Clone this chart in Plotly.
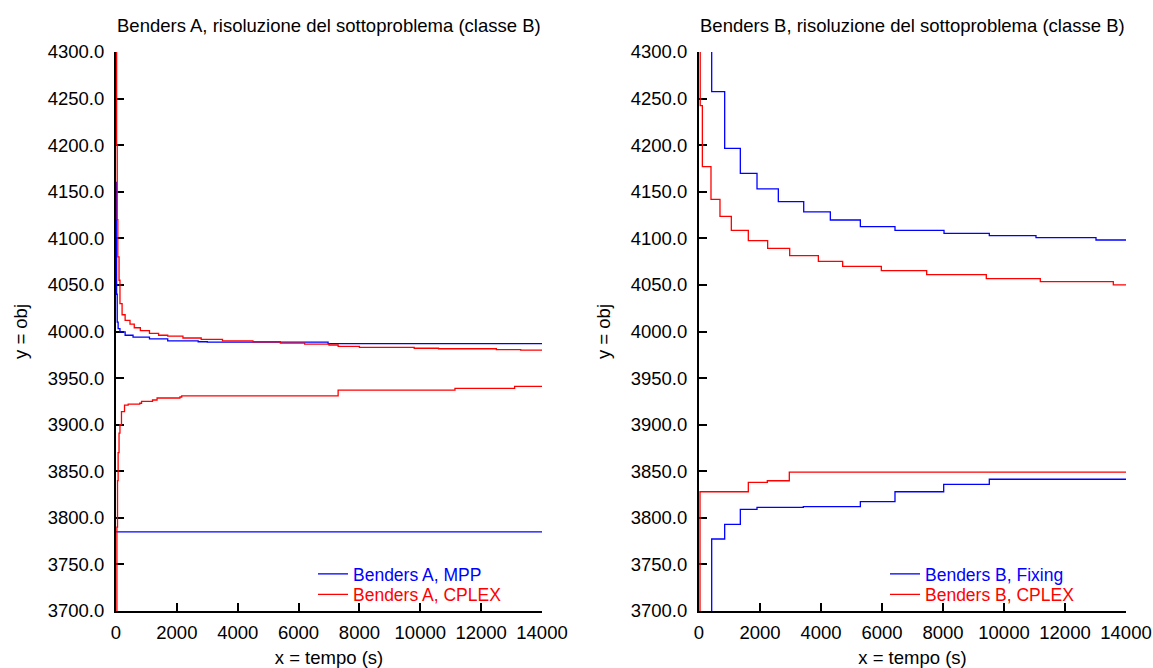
import plotly.graph_objects as go

# ---------------- Benders A, classe B ----------------
# Upper bound, MPP
a_mpp_up_t = [0, 10, 20, 40, 70, 130, 300, 560, 1100, 1700, 2700, 3000, 6970, 14000]
a_mpp_up_v = [4160, 4100, 4040, 4010, 4003, 3999.5, 3996, 3994, 3992, 3990, 3989, 3988.5, 3987, 3987]
# Lower bound, MPP
a_mpp_lo_t = [0, 14000]
a_mpp_lo_v = [3785, 3785]
# Upper bound, CPLEX
a_cpx_up_t = [0, 20, 40, 60, 100, 130, 200, 300, 460, 600, 800, 1100, 1400, 1700, 2200, 2800,
              3500, 4500, 5400, 6200, 7000, 7300, 8000, 9800, 10600, 12500, 13300, 14000]
a_cpx_up_v = [4320, 4200, 4120, 4080, 4055, 4030, 4018, 4012, 4008, 4004, 4001, 3998, 3996, 3995,
              3993, 3991.5, 3990, 3989, 3987.5, 3986.5, 3985.5, 3984, 3983, 3982, 3981.5, 3980.5,
              3980, 3980]
# Lower bound, CPLEX
a_cpx_lo_t = [0, 30, 50, 70, 100, 130, 180, 280, 400, 780, 840, 1200, 1350, 2100, 2160, 7300,
              11140, 13100, 14000]
a_cpx_lo_v = [3690, 3790, 3840, 3870, 3891, 3900, 3914, 3921, 3922, 3923, 3925, 3926.5, 3928.6,
              3929.7, 3930.8, 3937, 3939, 3941, 3941]

# ---------------- Benders B, classe B ----------------
# Upper bound, Fixing
b_fix_up_t = [416, 416, 842, 1355, 1902, 2601, 3433, 4306, 5290, 6426, 8033, 9518, 11049, 13016, 14000]
b_fix_up_v = [4400, 4257.4, 4196.6, 4169.8, 4153, 4139.3, 4128.3, 4119.7, 4112.5, 4108.6, 4105.4,
              4102.9, 4100.7, 4098.2, 4098.2]
# Lower bound, Fixing
b_fix_lo_t = [416, 416, 842, 1355, 1902, 3421, 5290, 6426, 8023, 9518, 14000]
b_fix_lo_v = [3600, 3777.3, 3793, 3809, 3811.3, 3812, 3817.3, 3828, 3836, 3841.4, 3841.4]
# Upper bound, CPLEX
b_cpx_up_t = [0, 40, 110, 393, 688, 1060, 1617, 2251, 2973, 3913, 4710, 5978, 7465, 9420, 11190,
              13584, 14000]
b_cpx_up_v = [4330, 4242.4, 4176.9, 4141.9, 4123.6, 4108.6, 4097.5, 4089.3, 4081.4, 4075.3, 4070,
              4065.3, 4061, 4056.7, 4053.5, 4050, 4050]
# Lower bound, CPLEX
b_cpx_lo_t = [0, 33, 1617, 2240, 2961, 14000]
b_cpx_lo_v = [3600, 3828, 3838, 3839.8, 3849, 3849]

titles = ["Benders A, risoluzione del sottoproblema (classe B)",
          "Benders B, risoluzione del sottoproblema (classe B)"]
x_ticks = list(range(0, 14001, 2000))
y_ticks = [3700 + 50 * i for i in range(13)]

BLUE = "#0000ff"
RED = "#ff0000"
FONT = "Liberation Sans, Arial, sans-serif"
FS = 18.5
FS_LEG = 17.5

fig = go.Figure()


def add_series(t, v, color, name, xa, ya, leg, show):
    fig.add_trace(go.Scatter(
        x=t, y=v, mode="lines",
        line=dict(color=color, width=1.3, shape="hv"),
        name=name, showlegend=show, legend=leg,
        xaxis=xa, yaxis=ya, hoverinfo="x+y",
    ))


# each method gets its own one-entry legend so entries can carry their own colour
add_series(a_mpp_lo_t, a_mpp_lo_v, BLUE, "Benders A, MPP", "x", "y", "legend", True)
add_series(a_mpp_up_t, a_mpp_up_v, BLUE, "Benders A, MPP", "x", "y", "legend", False)
add_series(a_cpx_lo_t, a_cpx_lo_v, RED, "Benders A, CPLEX", "x", "y", "legend2", True)
add_series(a_cpx_up_t, a_cpx_up_v, RED, "Benders A, CPLEX", "x", "y", "legend2", False)

add_series(b_fix_lo_t, b_fix_lo_v, BLUE, "Benders B, Fixing", "x2", "y2", "legend3", True)
add_series(b_fix_up_t, b_fix_up_v, BLUE, "Benders B, Fixing", "x2", "y2", "legend3", False)
add_series(b_cpx_lo_t, b_cpx_lo_v, RED, "Benders B, CPLEX", "x2", "y2", "legend4", True)
add_series(b_cpx_up_t, b_cpx_up_v, RED, "Benders B, CPLEX", "x2", "y2", "legend4", False)

W, H = 1153, 668
dom_a = [116 / W, 542 / W]
dom_b = [699 / W, 1126 / W]
dom_y = [1 - 611 / H, 1 - 52 / H]

axis_common = dict(
    showgrid=False, zeroline=False, showline=True, linecolor="#000000", linewidth=2,
    ticks="inside", ticklen=8, tickwidth=1.5, tickcolor="#000000",
    tickfont=dict(family=FONT, size=FS, color="#000000"),
    layer="below traces", automargin=False,
)
xaxis_common = dict(axis_common, range=[0, 14000], tickvals=x_ticks,
                    ticktext=[str(t) for t in x_ticks], ticklabelstandoff=4,
                    title=dict(text="x = tempo (s)", font=dict(family=FONT, size=FS, color="#000000")))
yaxis_common = dict(axis_common, range=[3700, 4300], tickvals=y_ticks,
                    ticktext=[f"{t:.1f}" for t in y_ticks], ticklabelstandoff=6,
                    title=dict(text="y = obj", font=dict(family=FONT, size=FS, color="#000000")))


def legend_box(x_px, y_px, color):
    return dict(bgcolor="rgba(0,0,0,0)", borderwidth=0,
                font=dict(family=FONT, size=FS_LEG, color=color),
                xanchor="left", yanchor="middle",
                x=x_px / W, y=1 - y_px / H)


fig.update_layout(
    width=W, height=H,
    margin=dict(l=0, r=0, t=0, b=0),
    paper_bgcolor="#ffffff", plot_bgcolor="#ffffff",
    font=dict(family=FONT, size=FS, color="#000000"),
    xaxis=dict(xaxis_common, domain=dom_a, anchor="y"),
    yaxis=dict(yaxis_common, domain=dom_y, anchor="x"),
    xaxis2=dict(xaxis_common, domain=dom_b, anchor="y2"),
    yaxis2=dict(yaxis_common, domain=dom_y, anchor="x2"),
    legend=legend_box(313, 574, BLUE),
    legend2=legend_box(313, 594.5, RED),
    legend3=legend_box(885, 574, BLUE),
    legend4=legend_box(885, 594.5, RED),
    showlegend=True,
    annotations=[
        dict(text=titles[0], x=sum(dom_a) / 2, y=1 - 25 / H, xref="paper", yref="paper",
             showarrow=False, font=dict(family=FONT, size=FS, color="#000000"),
             xanchor="center", yanchor="middle"),
        dict(text=titles[1], x=sum(dom_b) / 2, y=1 - 25 / H, xref="paper", yref="paper",
             showarrow=False, font=dict(family=FONT, size=FS, color="#000000"),
             xanchor="center", yanchor="middle"),
    ],
)

fig.write_html("out.html")
